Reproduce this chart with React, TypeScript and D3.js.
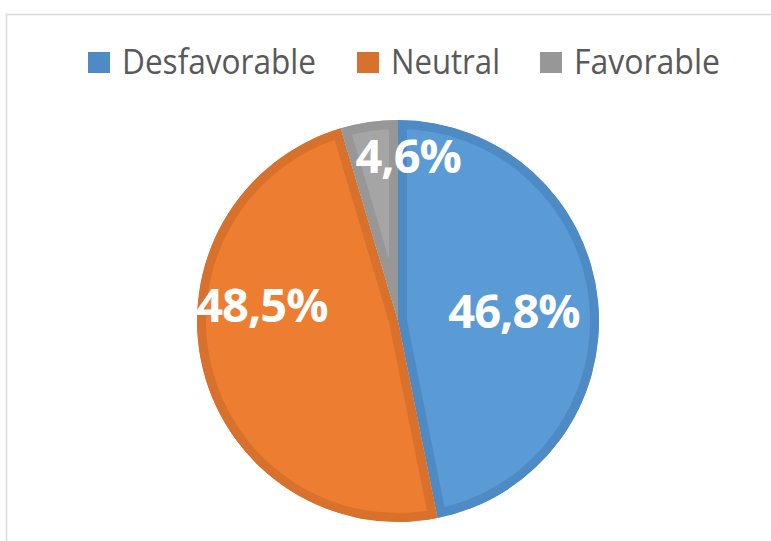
import { useEffect, useRef } from "react";
import * as d3 from "d3";

// chart data
const categories = ["Desfavorable", "Neutral", "Favorable"];
const shares = [46.8, 48.5, 4.6];
const valueLabels = ["46,8%", "48,5%", "4,6%"];

const fills = ["#5B9BD5", "#ED7D31", "#A5A5A5"];
const edges = ["#4E8BC4", "#D7712C", "#979797"];
// nudges from the arc centroid, to match where the labels sit
const labelNudge: [number, number][] = [
  [0, 2],
  [-23, -44],
  [27, -50],
];

export default function App() {
  const svgRef = useRef<SVGSVGElement>(null);

  useEffect(() => {
    const width = 771;
    const height = 541;
    const cx = 398;
    const cy = 321;
    const radius = 201;

    const svg = d3.select(svgRef.current);
    svg.selectAll("*").remove();
    svg.attr("width", width).attr("height", height);

    const defs = svg.append("defs");

    svg
      .append("rect")
      .attr("width", width)
      .attr("height", height)
      .attr("fill", "#fff");

    // chart frame (only top and left edges are visible)
    svg
      .append("rect")
      .attr("x", 6.5)
      .attr("y", 14.5)
      .attr("width", width + 20)
      .attr("height", height + 20)
      .attr("fill", "none")
      .attr("stroke", "#D9D9D9")
      .attr("stroke-width", 1.5);

    // legend
    const legendX = [88, 357, 540];
    const legendW = [194, 109, 146];
    const legend = svg.append("g");
    categories.forEach((c, i) => {
      legend
        .append("rect")
        .attr("x", legendX[i])
        .attr("y", 52)
        .attr("width", 22)
        .attr("height", 21)
        .attr("fill", edges[i]);
      legend
        .append("text")
        .attr("x", legendX[i] + 34)
        .attr("y", 74)
        .attr("font-family", "'Open Sans', sans-serif")
        .attr("font-size", 34)
        .attr("fill", "#595959")
        .attr("textLength", legendW[i])
        .attr("lengthAdjust", "spacingAndGlyphs")
        .text(c);
    });

    const pie = d3
      .pie<number>()
      .sort(null)
      .value((d) => d);
    const arcs = pie(shares);

    const arc = d3
      .arc<d3.PieArcDatum<number>>()
      .innerRadius(0)
      .outerRadius(radius);
    const labelArc = d3
      .arc<d3.PieArcDatum<number>>()
      .innerRadius(radius * 0.58)
      .outerRadius(radius * 0.58);

    const g = svg.append("g").attr("transform", `translate(${cx},${cy})`);

    arcs.forEach((a, i) => {
      const id = `slice-clip-${i}`;
      defs
        .append("clipPath")
        .attr("id", id)
        .append("path")
        .attr("d", arc(a));
      // inner band drawn by a doubled stroke clipped to the slice
      g.append("path")
        .attr("d", arc(a))
        .attr("fill", fills[i])
        .attr("stroke", edges[i])
        .attr("stroke-width", 18)
        .attr("stroke-linejoin", "miter")
        .attr("clip-path", `url(#${id})`);
    });

    const labels = svg.append("g").attr("transform", `translate(${cx},${cy})`);
    arcs.forEach((a, i) => {
      const [x, y] = labelArc.centroid(a);
      labels
        .append("text")
        .attr("x", x + labelNudge[i][0])
        .attr("y", y + labelNudge[i][1])
        .attr("dy", "0.36em")
        .attr("text-anchor", "middle")
        .attr("font-family", "'Open Sans', sans-serif")
        .attr("font-weight", 700)
        .attr("font-size", 47)
        .attr("fill", "#fff")
        .attr("letter-spacing", -1)
        .text(valueLabels[i]);
    });
  }, []);

  return (
    <div style={{ position: "absolute", left: 0, top: 0 }}>
      <svg ref={svgRef}></svg>
    </div>
  );
}
